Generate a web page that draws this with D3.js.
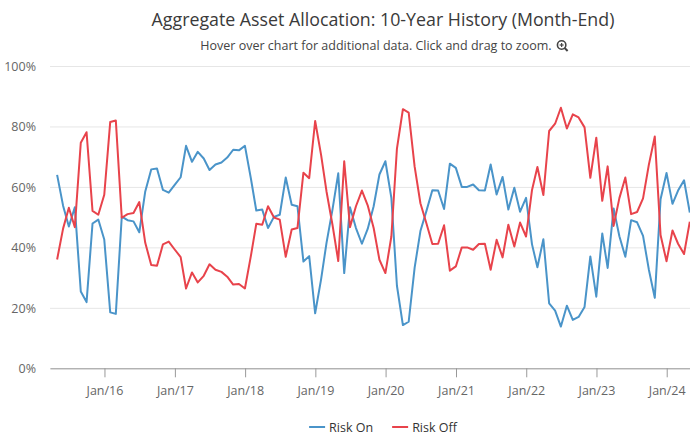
<!DOCTYPE html>
<html>
<head>
<meta charset="utf-8">
<script src="https://cdn.jsdelivr.net/npm/d3@7"></script>
<style>
  body { margin: 0; background: #fff; }
  text { font-family: "Open Sans", sans-serif; }
</style>
</head>
<body>
<div class="container"></div>
<script>
// month-end observations, Apr 2015 .. Apr 2024
let firstMonth = "2015-04-30"
let lastMonth = "2024-04-30"

let riskOn = [
  64.0, 53.8, 46.9, 53.3, 25.4, 21.9, 47.9, 49.2, 42.6, 18.5,
  18.0, 50.2, 49.0, 48.6, 45.0, 58.5, 65.8, 66.1, 59.0, 58.1,
  60.7, 63.2, 73.6, 68.3, 71.6, 69.4, 65.6, 67.4, 68.1, 69.7,
  72.3, 72.1, 73.6, 62.8, 52.2, 52.5, 46.4, 50.1, 50.8, 63.1,
  54.1, 53.6, 35.3, 37.1, 18.2, 29.5, 41.5, 52.5, 64.5, 31.5,
  53.3, 46.4, 41.2, 46.1, 53.6, 64.1, 68.5, 56.4, 27.3, 14.3,
  15.4, 33.3, 45.4, 52.0, 58.9, 58.8, 52.7, 67.7, 66.3, 60.0,
  60.0, 60.8, 58.9, 58.8, 67.4, 57.5, 63.3, 52.5, 59.7, 51.8,
  56.4, 41.0, 33.4, 42.7, 21.5, 19.1, 13.8, 20.7, 16.0, 17.0,
  20.3, 37.0, 23.7, 44.6, 33.2, 52.9, 43.7, 36.9, 49.0, 48.3,
  43.8, 32.7, 23.3, 55.9, 64.6, 54.4, 58.8, 62.2, 51.5
]

let riskOff = [
  36.0, 46.2, 53.1, 46.7, 74.6, 78.1, 52.1, 50.8, 57.4, 81.5,
  82.0, 49.8, 51.0, 51.4, 55.0, 41.5, 34.2, 33.9, 41.0, 41.9,
  39.3, 36.8, 26.4, 31.7, 28.4, 30.6, 34.4, 32.6, 31.9, 30.3,
  27.7, 27.9, 26.4, 37.2, 47.8, 47.5, 53.6, 49.9, 49.2, 36.9,
  45.9, 46.4, 64.7, 62.9, 81.8, 70.5, 58.5, 47.5, 35.5, 68.5,
  46.7, 53.6, 58.8, 53.9, 46.4, 35.9, 31.5, 43.6, 72.7, 85.7,
  84.6, 66.7, 54.6, 48.0, 41.1, 41.2, 47.3, 32.3, 33.7, 40.0,
  40.0, 39.2, 41.1, 41.2, 32.6, 42.5, 36.7, 47.5, 40.3, 48.2,
  43.6, 59.0, 66.6, 57.3, 78.5, 80.9, 86.2, 79.3, 84.0, 83.0,
  79.7, 63.0, 76.3, 55.4, 66.8, 47.1, 56.3, 63.1, 51.0, 51.7,
  56.2, 67.3, 76.7, 44.1, 35.4, 45.6, 41.2, 37.8, 48.5
]

let yTicks = [0, 20, 40, 60, 80, 100]
let xTickYears = [2016, 2017, 2018, 2019, 2020, 2021, 2022, 2023, 2024]
let seriesNames = ["Risk On", "Risk Off"]
let seriesColors = ["#4a94c9", "#e8434b"]

let width = 690
let height = 437
let plotLeft = 50
let plotRight = 690
let plotTop = 66
let plotBottom = 368.3
let centerX = 383

let parseDay = d3.utcParse("%Y-%m-%d")
let months = d3.utcMonth.range(d3.utcMonth.floor(parseDay(firstMonth)), d3.utcMonth.offset(parseDay(lastMonth), 1))
  .map(function (m) { return d3.utcDay.offset(d3.utcMonth.offset(m, 1), -1) })

let x = d3.scaleUtc()
  .domain([parseDay("2015-03-24"), parseDay("2024-05-01")])
  .range([plotLeft, plotRight])

let y = d3.scaleLinear()
  .domain([0, 100])
  .range([plotBottom, plotTop])

let svg = d3.select(".container")
  .append("svg")
  .attr("width", width)
  .attr("height", height)

// gridlines + y labels
let yAxis = d3.axisLeft(y)
  .tickValues(yTicks)
  .tickSize(-(plotRight - plotLeft))
  .tickFormat(function (d) { return d + "%" })

svg.append("g")
  .attr("transform", `translate(${plotLeft},0)`)
  .call(yAxis)
  .call(function (g) {
    g.select(".domain").remove()
    g.selectAll(".tick line").attr("stroke", "#e6e6e6")
    g.selectAll(".tick text")
      .attr("x", -14)
      .attr("dy", "0.35em")
      .attr("fill", "#666")
      .attr("font-size", "12.5px")
  })

// x axis
let xAxis = d3.axisBottom(x)
  .tickValues(xTickYears.map(function (yr) { return Date.UTC(yr, 0, 1) }))
  .tickSize(9)
  .tickSizeOuter(0)
  .tickFormat(d3.utcFormat("%b/%y"))

svg.append("g")
  .attr("transform", `translate(0,${plotBottom})`)
  .call(xAxis)
  .call(function (g) {
    g.select(".domain").attr("stroke", "#999")
    g.selectAll(".tick line").attr("stroke", "#999")
    g.selectAll(".tick text")
      .attr("y", 18)
      .attr("fill", "#666")
      .attr("font-size", "12.5px")
  })

// lines
let line = d3.line()
  .x(function (d, i) { return x(months[i]) })
  .y(function (d) { return y(d) })

let allSeries = [riskOn, riskOff]

svg.selectAll(".series")
  .data(allSeries)
  .enter()
  .append("path")
  .attr("class", "series")
  .attr("d", line)
  .attr("fill", "none")
  .attr("stroke", function (d, i) { return seriesColors[i] })
  .attr("stroke-width", 2)
  .attr("stroke-linejoin", "round")

// title
svg.append("text")
  .attr("x", centerX)
  .attr("y", 26)
  .attr("text-anchor", "middle")
  .attr("font-size", "17.8px")
  .attr("fill", "#3a3a3a")
  .text("Aggregate Asset Allocation: 10-Year History (Month-End)")

let sub = svg.append("text")
  .attr("x", centerX - 7)
  .attr("y", 50)
  .attr("text-anchor", "middle")
  .attr("font-size", "12.5px")
  .attr("fill", "#444")
  .text("Hover over chart for additional data. Click and drag to zoom.")

// magnifier icon after subtitle
let subBox = sub.node().getBBox()
let icon = svg.append("g")
  .attr("transform", `translate(${subBox.x + subBox.width + 10},45)`)
  .attr("stroke", "#444")
  .attr("fill", "none")
icon.append("circle").attr("r", 4.2).attr("stroke-width", 1.6)
icon.append("line").attr("x1", 3).attr("y1", 3).attr("x2", 6).attr("y2", 6).attr("stroke-width", 2)
icon.append("line").attr("x1", -2).attr("y1", 0).attr("x2", 2).attr("y2", 0).attr("stroke-width", 1.2)
icon.append("line").attr("x1", 0).attr("y1", -2).attr("x2", 0).attr("y2", 2).attr("stroke-width", 1.2)

// legend
let legend = svg.append("g")
let cursor = 0
seriesNames.forEach(function (name, i) {
  let item = legend.append("g").attr("transform", `translate(${cursor},0)`)
  item.append("line")
    .attr("x1", 0).attr("x2", 16)
    .attr("y1", 0).attr("y2", 0)
    .attr("stroke", seriesColors[i])
    .attr("stroke-width", 2)
  let t = item.append("text")
    .attr("x", 20)
    .attr("y", 4.5)
    .attr("font-size", "12.5px")
    .attr("fill", "#333")
    .text(name)
  cursor += 20 + t.node().getComputedTextLength() + 19
})
let legendWidth = cursor - 19
legend.attr("transform", `translate(${centerX - legendWidth / 2},427)`)
</script>
</body>
</html>
